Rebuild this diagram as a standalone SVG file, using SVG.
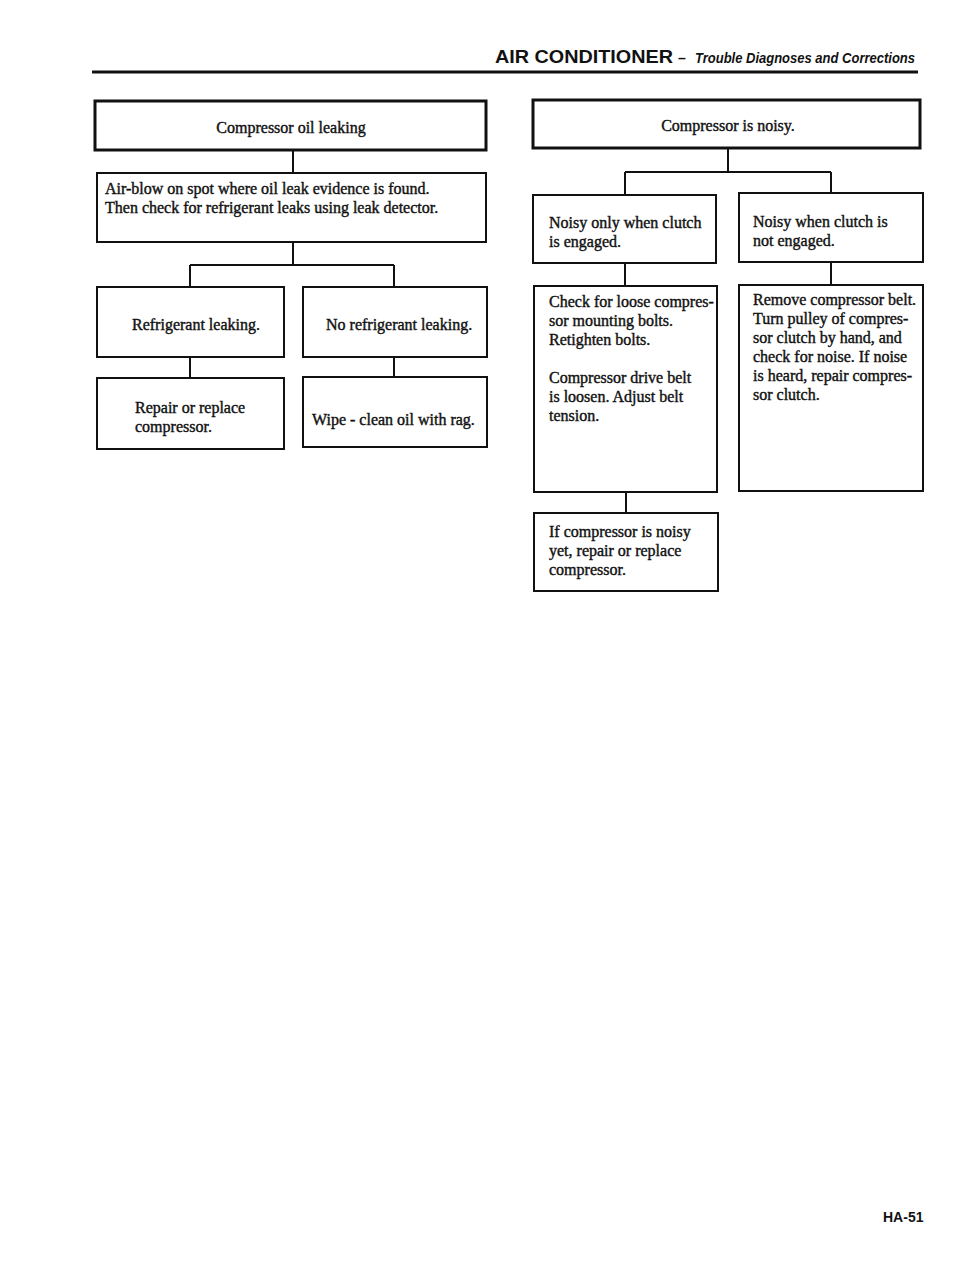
<svg xmlns="http://www.w3.org/2000/svg" width="960" height="1273" viewBox="0 0 960 1273">
<style>
.box{fill:#fff;stroke:#111;stroke-width:2}
.top{stroke-width:3}
.t{font-family:"Liberation Serif","Times New Roman",serif;font-size:16px;fill:#111;stroke:#111;stroke-width:0.4}
.c{text-anchor:middle}
.con{fill:none;stroke:#111;stroke-width:2}
.h{font-family:"Liberation Sans",Arial,sans-serif;fill:#111}
</style>
<rect width="960" height="1273" fill="#fff"/>
<g id="header">
<text class="h" x="495" y="63" font-size="19" font-weight="bold" textLength="178" lengthAdjust="spacingAndGlyphs">AIR CONDITIONER</text>
<text class="h" x="678" y="63" font-size="14" font-weight="bold">–</text>
<text class="h" x="695" y="63" font-size="14.5" font-style="italic" font-weight="bold" textLength="220" lengthAdjust="spacingAndGlyphs">Trouble Diagnoses and Corrections</text>
<line x1="92" y1="72" x2="918" y2="72" stroke="#111" stroke-width="3"/>
</g>
<g id="connectors">
<path class="con" d="M293 150V173"/>
<path class="con" d="M293 242V265M190 265H394M190 265V287M394 265V287"/>
<path class="con" d="M190 357V378"/>
<path class="con" d="M394 357V377"/>
<path class="con" d="M728 148V172M625 172H831M625 172V195M831 172V193"/>
<path class="con" d="M625 263V286"/>
<path class="con" d="M831 262V285"/>
<path class="con" d="M626 492V513"/>
</g>
<g id="n1"><rect class="box top" x="95" y="101" width="391" height="49"/><text class="t c" x="291" y="133">Compressor oil leaking</text></g>
<g id="n2"><rect class="box" x="97" y="173" width="389" height="69"/><text class="t" x="105" y="194">Air-blow on spot where oil leak evidence is found.</text><text class="t" x="105" y="213">Then check for refrigerant leaks using leak detector.</text></g>
<g id="n3"><rect class="box" x="97" y="287" width="187" height="70"/><text class="t" x="132" y="330">Refrigerant leaking.</text></g>
<g id="n4"><rect class="box" x="303" y="287" width="184" height="70"/><text class="t" x="326" y="330">No refrigerant leaking.</text></g>
<g id="n5"><rect class="box" x="97" y="378" width="187" height="71"/><text class="t" x="135" y="413">Repair or replace</text><text class="t" x="135" y="432">compressor.</text></g>
<g id="n6"><rect class="box" x="303" y="377" width="184" height="70"/><text class="t" x="312" y="425">Wipe - clean oil with rag.</text></g>
<g id="n7"><rect class="box top" x="533" y="100" width="387" height="48"/><text class="t c" x="728" y="131">Compressor is noisy.</text></g>
<g id="n8"><rect class="box" x="533" y="195" width="183" height="68"/><text class="t" x="549" y="228">Noisy only when clutch</text><text class="t" x="549" y="247">is engaged.</text></g>
<g id="n9"><rect class="box" x="739" y="193" width="184" height="69"/><text class="t" x="753" y="227">Noisy when clutch is</text><text class="t" x="753" y="246">not engaged.</text></g>
<g id="n10"><rect class="box" x="534" y="286" width="183" height="206"/>
<text class="t" x="549" y="307">Check for loose compres-</text>
<text class="t" x="549" y="326">sor mounting bolts.</text>
<text class="t" x="549" y="345">Retighten bolts.</text>
<text class="t" x="549" y="383">Compressor drive belt</text>
<text class="t" x="549" y="402">is loosen.  Adjust belt</text>
<text class="t" x="549" y="421">tension.</text></g>
<g id="n11"><rect class="box" x="739" y="285" width="184" height="206"/>
<text class="t" x="753" y="305">Remove compressor belt.</text>
<text class="t" x="753" y="324">Turn pulley of compres-</text>
<text class="t" x="753" y="343">sor clutch by hand, and</text>
<text class="t" x="753" y="362">check for noise.  If noise</text>
<text class="t" x="753" y="381">is heard, repair compres-</text>
<text class="t" x="753" y="400">sor clutch.</text></g>
<g id="n12"><rect class="box" x="534" y="513" width="184" height="78"/>
<text class="t" x="549" y="537">If compressor is noisy</text>
<text class="t" x="549" y="556">yet, repair or replace</text>
<text class="t" x="549" y="575">compressor.</text></g>
<g id="footer"><text class="h" x="883" y="1222" font-size="14" font-weight="bold">HA-51</text></g>
</svg>
